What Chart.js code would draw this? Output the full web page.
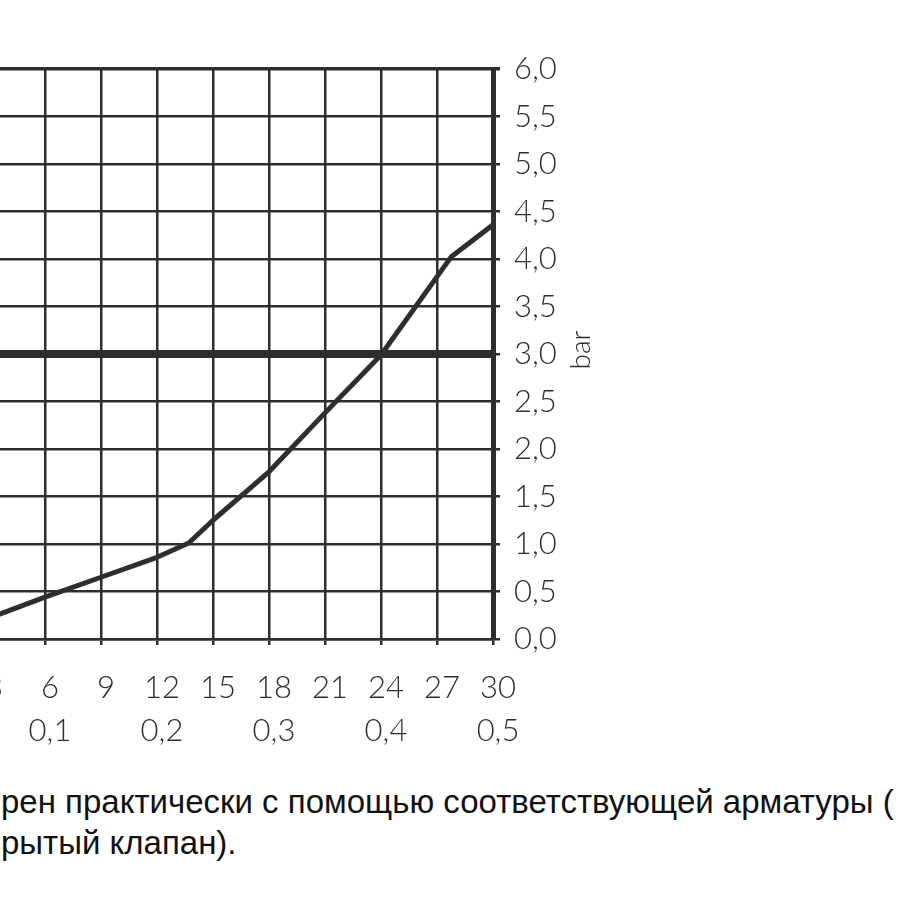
<!DOCTYPE html>
<html>
<head>
<meta charset="utf-8">
<script src="https://cdn.jsdelivr.net/npm/chart.js@4"></script>
<style>
  html, body { margin: 0; padding: 0; background: #fff; overflow: hidden; width: 900px; height: 900px; }
  #wrap { position: absolute; left: -100px; top: 0; width: 1000px; height: 780px; }
  .note { position: absolute; left: 1px; font-family: "Liberation Sans", Arial, sans-serif; font-size: 33px; line-height: 33px; color: #111; white-space: nowrap; }
</style>
</head>
<body>
<div id="wrap"><canvas id="chart"></canvas></div>
<div class="note" style="top:785px">рен практически с помощью соответствующей арматуры (</div>
<div class="note" style="top:826px">рытый клапан).</div>
<script>
// flow in l/min against pressure in bar
const flowLpm = [0, 3, 6, 9, 12, 13.7, 15, 18, 21, 24, 27.75, 30];
const pressureBar = [0, 0.22, 0.44, 0.65, 0.86, 1.01, 1.25, 1.76, 2.38, 2.99, 4.02, 4.36];

// thick reference line at 3 bar
const limitFlow = [0, 30];
const limitBar = [3, 3];

// second row under the x axis (l/s)
const lpsTicks = [6, 12, 18, 24, 30];
const lpsLabels = ["0,1", "0,2", "0,3", "0,4", "0,5"];

const yTitle = "bar";

const ink = "#2e2e2e";
const tickFont = { family: "Lato, 'DejaVu Sans', sans-serif", size: 31, weight: 300 };

const barTitle = {
    id: "barTitle",
    afterDraw(chart) {
        const s = chart.scales.y;
        const ctx = chart.ctx;
        ctx.save();
        ctx.translate(s.right + 18, (s.top + s.bottom) / 2 - 4);
        ctx.rotate(-Math.PI / 2);
        ctx.font = "300 28px Lato, sans-serif";
        ctx.fillStyle = ink;
        ctx.textAlign = "center";
        ctx.textBaseline = "middle";
        ctx.fillText(yTitle, 0, 0);
        ctx.restore();
    }
};

new Chart(document.getElementById("chart"), {
    type: "line",
    data: {
        datasets: [{
            data: flowLpm.map((x, i) => ({ x, y: pressureBar[i] })),
            borderColor: ink,
            borderWidth: 5,
            pointRadius: 0,
            tension: 0,
            borderJoinStyle: "round"
        }, {
            data: limitFlow.map((x, i) => ({ x, y: limitBar[i] })),
            borderColor: ink,
            borderWidth: 8,
            pointRadius: 0
        }]
    },
    options: {
        responsive: true,
        maintainAspectRatio: false,
        animation: false,
        layout: { padding: { left: 32, top: 69, right: 337, bottom: 26 } },
        plugins: { legend: { display: false }, tooltip: { enabled: false } },
        scales: {
            x: {
                type: "linear",
                position: "bottom",
                min: 0,
                max: 30,
                afterFit: s => { s.height = 65; },
                ticks: { stepSize: 3, autoSkip: false, maxRotation: 0, padding: 24, labelOffset: 5, color: ink, font: tickFont },
                grid: { color: ink, lineWidth: 2.5, tickLength: 6 },
                border: { color: ink, width: 2.5 }
            },
            x2: {
                type: "linear",
                position: "bottom",
                min: 0,
                max: 30,
                afterFit: s => { s.height = 50; },
                afterBuildTicks: s => { s.ticks = lpsTicks.map(v => ({ value: v })); },
                ticks: {
                    autoSkip: false,
                    maxRotation: 0,
                    padding: 8,
                    labelOffset: 5,
                    color: ink,
                    font: tickFont,
                    callback: v => lpsLabels[lpsTicks.indexOf(v)]
                },
                grid: { display: false, drawTicks: false },
                border: { display: false }
            },
            y: {
                position: "right",
                min: 0,
                max: 6,
                afterFit: s => { s.width = 70; },
                ticks: {
                    stepSize: 0.5,
                    padding: 14,
                    color: ink,
                    font: tickFont,
                    callback: v => v.toFixed(1).replace(".", ",")
                },
                grid: {
                    color: ink,
                    lineWidth: c => (c.tick && c.tick.value === 6 ? 3.5 : 2.5),
                    tickLength: 7
                },
                border: { color: ink, width: 5 }
            }
        }
    },
    plugins: [barTitle]
});
</script>
</body>
</html>
